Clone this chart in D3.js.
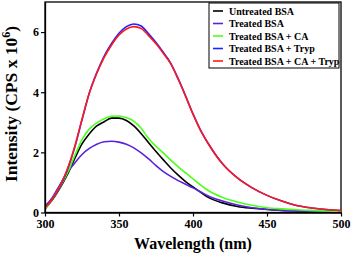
<!DOCTYPE html>
<html><head><meta charset="utf-8">
<script src="https://cdn.jsdelivr.net/npm/d3@7"></script>
<style>body{margin:0;background:#fff}svg{display:block}</style>
</head><body><svg id="c" width="351" height="257"></svg>
<script>
const wavelengths = [300,305,310,315,320,325,330,335,340,345,350,355,360,365,370,375,380,385,390,395,400,405,410,420,430,440,450,460,470,480,490,500];
const untreated = [0.12,0.42,0.80,1.25,1.78,2.28,2.62,2.88,3.02,3.14,3.14,3.06,2.88,2.62,2.32,2.03,1.75,1.48,1.24,1.03,0.85,0.68,0.51,0.32,0.20,0.14,0.10,0.07,0.05,0.04,0.03,0.03];
const treated = [0.20,0.50,0.92,1.33,1.64,1.93,2.13,2.27,2.35,2.37,2.34,2.27,2.15,1.98,1.78,1.56,1.36,1.20,1.06,0.94,0.82,0.69,0.56,0.38,0.25,0.16,0.11,0.07,0.05,0.04,0.03,0.02];
const treatedCA = [0.12,0.45,0.84,1.30,1.88,2.42,2.78,2.98,3.12,3.20,3.21,3.15,3.04,2.80,2.46,2.20,1.98,1.74,1.52,1.32,1.12,0.92,0.74,0.50,0.35,0.24,0.16,0.12,0.09,0.07,0.05,0.04];
const treatedTryp = [0.22,0.45,0.85,1.40,2.15,3.08,3.98,4.65,5.20,5.62,5.96,6.18,6.27,6.20,5.94,5.65,5.32,4.96,4.45,3.88,3.28,2.75,2.32,1.62,1.15,0.82,0.57,0.38,0.23,0.15,0.10,0.06];
const treatedCATryp = [0.16,0.45,0.87,1.43,2.18,3.10,3.98,4.63,5.16,5.57,5.90,6.10,6.18,6.12,5.88,5.61,5.29,4.94,4.43,3.86,3.27,2.74,2.31,1.61,1.15,0.82,0.57,0.38,0.23,0.15,0.10,0.07];
const seriesNames = ["Untreated BSA","Treated BSA","Treated BSA + CA","Treated BSA + Tryp","Treated BSA + CA + Tryp"];
const seriesColors = ["#000000","#5a22dc","#4cff1a","#1f1fff","#ff1a1a"];
const xTicks = [300,350,400,450,500];
const yTicks = [0,2,4,6];

const seriesValues = [untreated, treated, treatedCA, treatedTryp, treatedCATryp];
const svg = d3.select("#c");
const L = 45, R = 341, T = 2, B = 212.5;
const x = d3.scaleLinear().domain([300,500]).range([L,R]);
const y = d3.scaleLinear().domain([0,7]).range([B,T]);
const font = "'Liberation Serif','Times New Roman',serif";

svg.append("rect").attr("x",L).attr("y",T).attr("width",R-L).attr("height",B-T)
  .attr("fill","none").attr("stroke","#000").attr("stroke-width",1.3);

svg.append("clipPath").attr("id","cl").append("rect").attr("x",L).attr("y",T).attr("width",R-L).attr("height",B-T);
const line = d3.line().x(d=>x(d[0])).y(d=>y(d[1])).curve(d3.curveMonotoneX);
seriesValues.forEach((vals,i)=>{
  svg.append("path").datum(wavelengths.map((w,j)=>[w,vals[j]]))
    .attr("d",line).attr("fill","none").attr("stroke",seriesColors[i]).attr("stroke-width",1.6)
    .attr("clip-path","url(#cl)");
});

const xAxis = svg.append("g").attr("transform",`translate(0,${B})`)
  .call(d3.axisBottom(x).tickValues(xTicks).tickFormat(d3.format("d")).tickSize(4).tickSizeOuter(0).tickPadding(3));
const yAxis = svg.append("g").attr("transform",`translate(${L},0)`)
  .call(d3.axisLeft(y).tickValues(yTicks).tickFormat(d3.format("d")).tickSize(4).tickSizeOuter(0).tickPadding(2));
[xAxis,yAxis].forEach(g=>{
  g.select(".domain").attr("stroke","#000").attr("stroke-width",1.3);
  g.selectAll(".tick line").attr("stroke","#000").attr("stroke-width",1.2);
  g.selectAll("text").attr("font-family",font).attr("font-weight","bold").attr("font-size",12).attr("fill","#000");
});

svg.append("text").attr("x",(L+R)/2).attr("y",249).attr("text-anchor","middle")
  .attr("font-family",font).attr("font-weight","bold").attr("font-size",16).text("Wavelength (nm)");
const yl = svg.append("text").attr("transform",`translate(17,104) rotate(-90)`).attr("text-anchor","middle")
  .attr("font-family",font).attr("font-weight","bold").attr("font-size",17.5);
yl.append("tspan").text("Intensity (CPS x 10");
yl.append("tspan").attr("font-size",12).attr("dy",-7).text("6");
yl.append("tspan").attr("dy",7).text(")");

const lg = svg.append("g");
lg.append("rect").attr("x",209).attr("y",3).attr("width",130).attr("height",65)
  .attr("fill","#fff").attr("stroke","#000").attr("stroke-width",1);
seriesNames.forEach((n,i)=>{
  const yy = 11 + i*12.5;
  lg.append("line").attr("x1",213).attr("x2",223).attr("y1",yy).attr("y2",yy)
    .attr("stroke",seriesColors[i]).attr("stroke-width",1.6);
  lg.append("text").attr("x",229).attr("y",yy+3.5).attr("font-family",font).attr("font-weight","bold")
    .attr("font-size",10).text(n);
});
</script></body></html>
